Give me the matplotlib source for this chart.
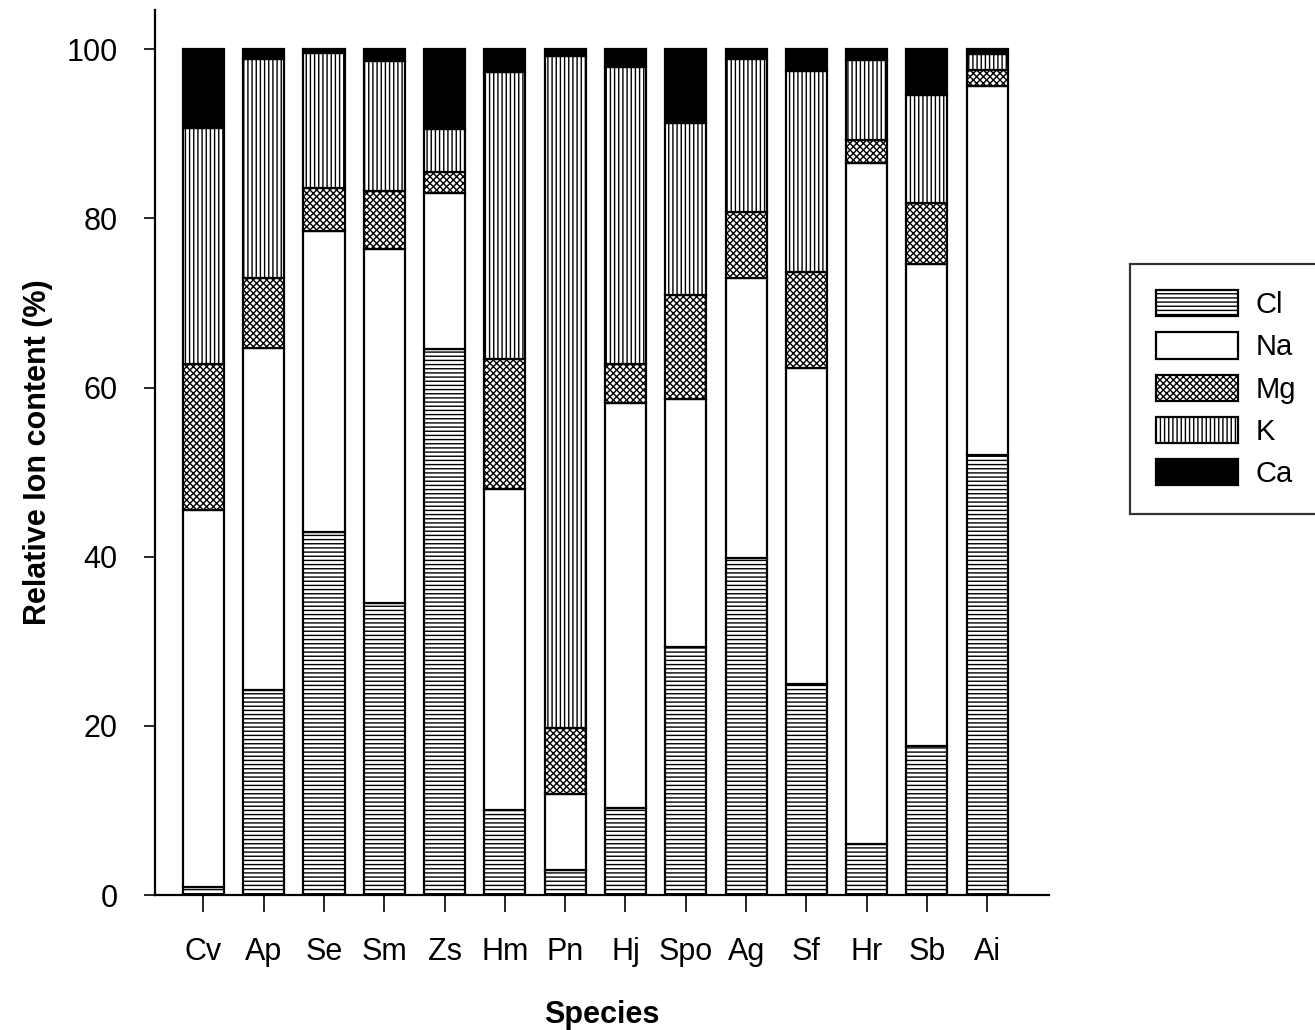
import matplotlib
matplotlib.use("Agg")
import matplotlib.pyplot as plt
import numpy as np

species = ["Cv", "Ap", "Se", "Sm", "Zs", "Hm", "Pn", "Hj", "Spo", "Ag", "Sf", "Hr", "Sb", "Ai"]

# relative ion content (%) per species, bottom to top
cl = [1.0, 24.2, 42.9, 34.5, 64.5, 10.0, 3.0, 10.3, 29.3, 39.8, 24.9, 6.0, 17.6, 52.0]
na = [44.5, 40.5, 35.6, 41.9, 18.5, 38.0, 9.0, 47.9, 29.4, 33.2, 37.4, 80.5, 57.0, 43.7]
mg = [17.3, 8.3, 5.1, 6.8, 2.5, 15.4, 7.8, 4.6, 12.3, 7.8, 11.4, 2.8, 7.2, 1.9]
k = [27.9, 25.8, 15.9, 15.4, 5.1, 33.9, 79.4, 35.1, 20.3, 18.0, 23.7, 9.4, 12.8, 1.8]
ca = [9.3, 1.2, 0.5, 1.4, 9.4, 2.7, 0.8, 2.1, 8.7, 1.2, 2.6, 1.3, 5.4, 0.6]

ions = ["Cl", "Na", "Mg", "K", "Ca"]
series = [cl, na, mg, k, ca]
hatches = ["----", "", "xxxxx", "||||", ""]
faces = ["white", "white", "white", "white", "black"]

plt.rcParams["font.family"] = ["Liberation Sans", "DejaVu Sans"]
plt.rcParams["hatch.linewidth"] = 1.0
plt.rcParams["hatch.color"] = "black"

fig = plt.figure(figsize=(13.15, 10.3), dpi=100)
ax = fig.add_axes([0.118, 0.131, 0.68, 0.859])

x = np.arange(len(species))
bottom = np.zeros(len(species))
handles = []
for name, vals, h, fc in zip(ions, series, hatches, faces):
    bars = ax.bar(x, vals, width=0.68, bottom=bottom, color=fc, hatch=h,
                  edgecolor="black", linewidth=1.6, label=name)
    handles.append(bars)
    bottom += np.array(vals)

ax.set_xlim(-0.8, 14.03)
ax.set_ylim(0, 104.6)
ax.set_yticks([0, 20, 40, 60, 80, 100])
ax.set_xticks(x)
ax.set_xticklabels(species)
ax.tick_params(axis="y", direction="out", length=8, width=1.2, labelsize=22, pad=19)
ax.tick_params(axis="x", direction="out", length=12, width=1.2, labelsize=22, pad=18)
for side in ["top", "right"]:
    ax.spines[side].set_visible(False)
for side in ["left", "bottom"]:
    ax.spines[side].set_linewidth(1.6)

ax.set_xlabel("Species", fontsize=22, fontweight="bold", labelpad=24)
ax.set_ylabel("Relative Ion content (%)", fontsize=22, fontweight="bold", labelpad=10)

leg = fig.legend(handles=handles, labels=ions, loc="upper left",
                 bbox_to_anchor=(1130 / 1315, 1 - 264 / 1030), borderaxespad=0,
                 fontsize=21, handlelength=2.8, handleheight=1.0, labelspacing=0.45,
                 handletextpad=0.6, borderpad=0.9, fancybox=False, frameon=True)
leg.get_frame().set_edgecolor("black")
leg.get_frame().set_linewidth(1.6)

fig.savefig("out.png", dpi=100)
